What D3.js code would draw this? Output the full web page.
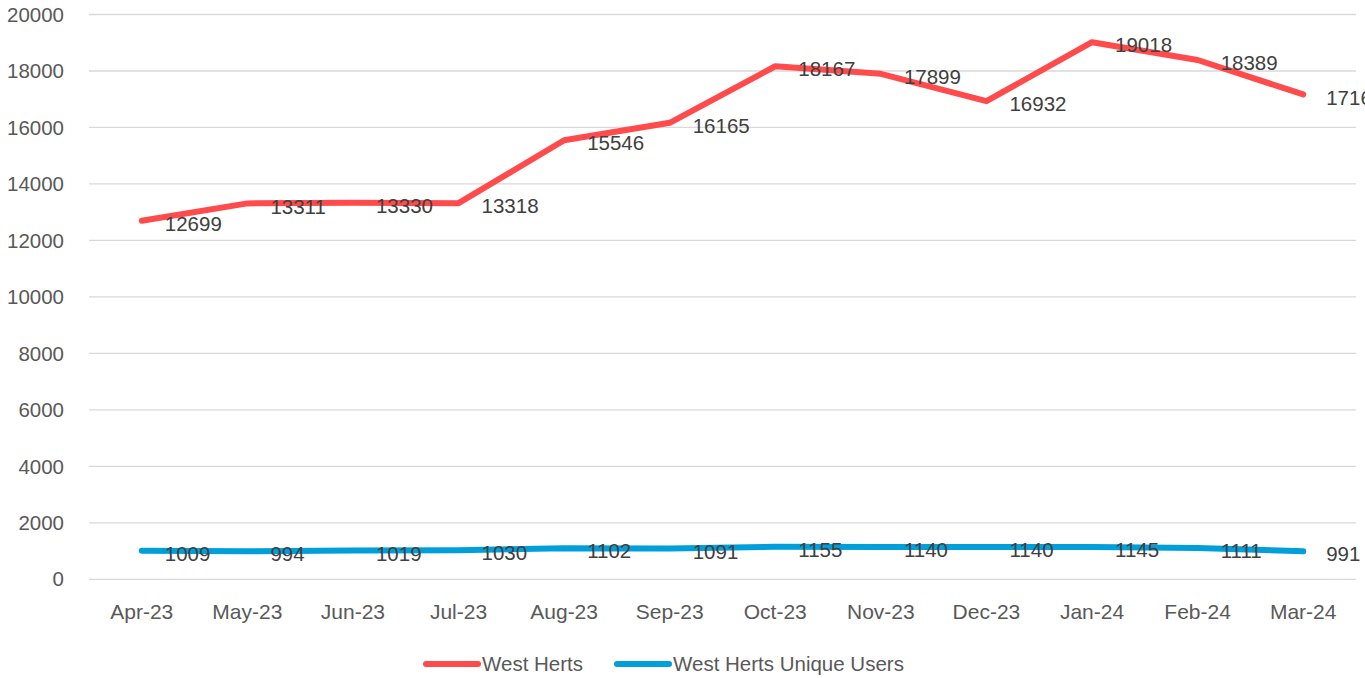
<!DOCTYPE html>
<html>
<head>
<meta charset="utf-8">
<script src="https://cdn.jsdelivr.net/npm/d3@7"></script>
<style>
  html, body { margin: 0; padding: 0; background: #fff; }
  svg { display: block; font-family: "Liberation Sans", Arial, sans-serif; }
</style>
</head>
<body>
<svg id="chart" width="1365" height="678"></svg>
<script>
// data
const months = ['Apr-23', 'May-23', 'Jun-23', 'Jul-23', 'Aug-23', 'Sep-23',
  'Oct-23', 'Nov-23', 'Dec-23', 'Jan-24', 'Feb-24', 'Mar-24'];
const westHerts = [12699, 13311, 13330, 13318, 15546, 16165, 18167, 17899, 16932, 19018, 18389, 17169];
const uniqueUsers = [1009, 994, 1019, 1030, 1102, 1091, 1155, 1140, 1140, 1145, 1111, 991];
const yTicks = [0, 2000, 4000, 6000, 8000, 10000, 12000, 14000, 16000, 18000, 20000];

const series = [
  { name: 'West Herts', values: westHerts, color: '#FF4B4B' },
  { name: 'West Herts Unique Users', values: uniqueUsers, color: '#009FDA' }
];

const svg = d3.select('#chart');
const textColor = '#595959';

// plot area
const plotLeft = 89, plotRight = 1356, plotTop = 14.5, plotBottom = 579.3;

const x = d3.scaleBand().domain(months).range([plotLeft, plotRight]).paddingInner(0).paddingOuter(0);
const y = d3.scaleLinear().domain([0, 20000]).range([plotBottom, plotTop]);
const cx = m => x(m) + x.bandwidth() / 2;

// gridlines
svg.append('g')
  .selectAll('line')
  .data(yTicks)
  .enter()
  .append('line')
  .attr('x1', plotLeft)
  .attr('x2', plotRight)
  .attr('y1', d => y(d))
  .attr('y2', d => y(d))
  .attr('stroke', '#D9D9D9')
  .attr('stroke-width', 1.3);

// y axis labels
svg.append('g')
  .selectAll('text')
  .data(yTicks)
  .enter()
  .append('text')
  .attr('x', 64)
  .attr('y', d => y(d))
  .attr('dy', '0.35em')
  .attr('text-anchor', 'end')
  .attr('font-size', 20.5)
  .attr('fill', textColor)
  .text(d => d);

// x axis labels
svg.append('g')
  .selectAll('text')
  .data(months)
  .enter()
  .append('text')
  .attr('x', d => cx(d))
  .attr('y', 612)
  .attr('dy', '0.35em')
  .attr('text-anchor', 'middle')
  .attr('font-size', 21)
  .attr('fill', textColor)
  .text(d => d);

// lines
const line = d3.line()
  .x((d, i) => cx(months[i]))
  .y(d => y(d));

series.forEach(s => {
  svg.append('path')
    .datum(s.values)
    .attr('d', line)
    .attr('fill', 'none')
    .attr('stroke', s.color)
    .attr('stroke-width', 6)
    .attr('stroke-linecap', 'round')
    .attr('stroke-linejoin', 'round');
});

// data labels (placed right of each point)
series.forEach(s => {
  svg.append('g')
    .selectAll('text')
    .data(s.values)
    .enter()
    .append('text')
    .attr('x', (d, i) => cx(months[i]) + 23)
    .attr('y', d => y(d) + 3)
    .attr('dy', '0.35em')
    .attr('font-size', 20.5)
    .attr('fill', '#404040')
    .text(d => d);
});

// legend
const legend = svg.append('g');
const legendItems = [
  { s: series[0], x0: 426 },
  { s: series[1], x0: 617 }
];
legendItems.forEach(it => {
  legend.append('line')
    .attr('x1', it.x0)
    .attr('x2', it.x0 + 52)
    .attr('y1', 664)
    .attr('y2', 664)
    .attr('stroke', it.s.color)
    .attr('stroke-width', 6)
    .attr('stroke-linecap', 'round');
  legend.append('text')
    .attr('x', it.x0 + 56)
    .attr('y', 664)
    .attr('dy', '0.35em')
    .attr('font-size', 20.5)
    .attr('fill', textColor)
    .text(it.s.name);
});
</script>
</body>
</html>
